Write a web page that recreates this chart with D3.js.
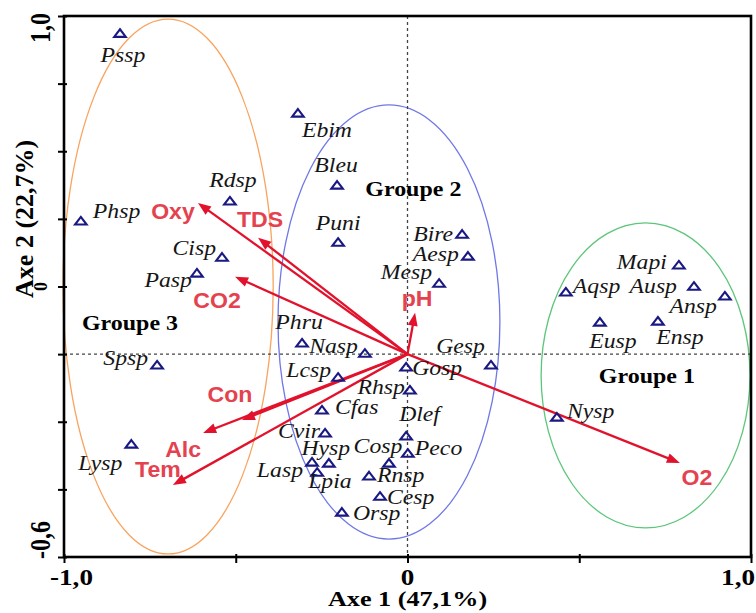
<!DOCTYPE html>
<html><head><meta charset="utf-8">
<script src="https://cdn.jsdelivr.net/npm/d3@7"></script>
<style>body{margin:0;background:#fff}svg{display:block}</style>
</head><body>
<svg id="c" width="756" height="613"></svg>
<script>
// ---------- data ----------
const species = ["Pssp","Ebim","Bleu","Puni","Bire","Aesp","Mesp","Rdsp","Phsp","Cisp","Pasp","Spsp","Lysp",
  "Phru","Nasp","Lcsp","Gosp","Gesp","Rhsp","Cfas","Dlef","Peco","Cvir","Hysp","Lasp","Lpia","Cosp","Rnsp","Cesp","Orsp",
  "Mapi","Aqsp","Ausp","Ansp","Eusp","Ensp","Nysp"];
const speciesX = [-0.837,-0.319,-0.205,-0.202,0.159,0.176,0.092,-0.517,-0.951,-0.540,-0.613,-0.729,-0.804,
  -0.307,-0.124,-0.202,-0.004,0.243,0.007,-0.249,-0.004,0.001,-0.240,-0.229,-0.278,-0.263,-0.054,-0.112,-0.080,-0.191,
  0.790,0.461,0.834,0.924,0.560,0.729,0.435];
const speciesY = [0.949,0.713,0.500,0.331,0.355,0.290,0.210,0.453,0.394,0.287,0.240,-0.032,-0.266,
  0.033,0.003,-0.068,-0.038,-0.032,-0.106,-0.165,-0.242,-0.293,-0.233,-0.322,-0.319,-0.349,-0.322,-0.360,-0.420,-0.467,
  0.264,0.184,0.201,0.172,0.095,0.098,-0.186];

const variables = ["Oxy","TDS","CO2","pH","Con","Alc","Tem","O2"];
const varX = [-0.610,-0.435,-0.502,0.022,-0.482,-0.595,-0.683,0.793];
const varY = [0.447,0.344,0.229,0.122,-0.195,-0.233,-0.387,-0.322];

const groups = ["Groupe 1","Groupe 2","Groupe 3"];
const groupCX = [0.693,-0.054,-0.697];
const groupCY = [-0.063,0.095,0.200];
const groupRX = [0.304,0.323,0.306];
const groupRY = [0.451,0.642,0.791];
const groupLabelX = [0.697,0.017,-0.808];
const groupLabelY = [-0.085,0.468,0.071];
const groupColors = ["#5cc67a","#6f78e6","#f9a35e"];

const xTicks = [-1,-0.5,0,0.5,1];
const xTickLabels = ["-1,0","","0","","1,0"];
const yTicks = [-0.6,-0.4,-0.2,0,0.2,0.4,0.6,0.8,1.0];
const yTickLabels = ["-0,6","","","","0","","","","1,0"];
const xTitle = "Axe 1 (47,1%)";
const yTitle = "Axe 2 (22,7%)";

// ---------- layout ----------
const L = 64, R = 751, T = 16, B = 557;
const x = d3.scaleLinear([-1,1],[L,R]);
const y = d3.scaleLinear([-0.6,1.0],[B,T]);
const svg = d3.select("#c");

const speciesLabelLayout = {
  Pssp:['middle',3,29], Ebim:['middle',29,24], Bleu:['middle',-1,-13], Puni:['middle',0,-12],
  Bire:['end',-9,7], Aesp:['end',-9,5], Mesp:['end',-7,-4], Rdsp:['middle',3,-14],
  Phsp:['start',12,-3], Cisp:['end',-6,-2], Pasp:['end',-5,14], Spsp:['end',-9,0], Lysp:['end',-9,26],
  Phru:['middle',-3,-14], Nasp:['end',-7,0], Lcsp:['end',-7,0], Gosp:['start',6,8], Gesp:['end',-6,-12],
  Rhsp:['end',-5,4], Cfas:['start',13,4], Dlef:['start',-7,-15], Peco:['start',7,2], Cvir:['end',-5,5],
  Hysp:['middle',-3,-8], Lasp:['end',-9,15], Lpia:['start',-9,16], Cosp:['middle',-11,-10],
  Rnsp:['start',8,6], Cesp:['start',7,8], Orsp:['start',11,8],
  Mapi:['end',-12,4], Aqsp:['start',7,1], Ausp:['end',-17,7], Ansp:['end',-8,17],
  Eusp:['middle',13,26], Ensp:['middle',22,23], Nysp:['start',10,1]
};
const varLabelLayout = {
  Oxy:[-25,16], TDS:[2,-11], CO2:[-18,31], pH:[2,-7], Con:[-12,-18], Alc:[-20,24], Tem:[-15,-8], O2:[17,22]
};

function stretchedText(g, str, px, py, anchor, sx, cls) {
  return g.append("text")
    .attr("transform", `translate(${px},${py}) scale(${sx},1)`)
    .attr("text-anchor", anchor)
    .attr("class", cls)
    .text(str);
}

svg.append("style").text(`
  .sp{font-family:"Liberation Serif","Times New Roman",serif;font-style:italic;font-size:21px;fill:#151515}
  .grp{font-family:"Liberation Serif","Times New Roman",serif;font-weight:bold;font-size:22px;fill:#000}
  .vr{font-family:"Liberation Sans",Arial,sans-serif;font-weight:bold;font-size:22px;fill:#e5424f}
  .tk{font-family:"Liberation Serif","Times New Roman",serif;font-weight:bold;fill:#000}
`);

// ellipses
groups.forEach((gname,i)=>{
  svg.append("ellipse")
    .attr("cx", x(groupCX[i])).attr("cy", y(groupCY[i]))
    .attr("rx", x(groupCX[i]+groupRX[i]) - x(groupCX[i]))
    .attr("ry", y(groupCY[i]-groupRY[i]) - y(groupCY[i]))
    .attr("fill","none").attr("stroke", groupColors[i]).attr("stroke-width",1.3);
});

// dashed zero lines
svg.append("line").attr("x1",x(0)).attr("x2",x(0)).attr("y1",T).attr("y2",B)
  .attr("stroke","#444").attr("stroke-width",1.3).attr("stroke-dasharray","3,3");
svg.append("line").attr("x1",L).attr("x2",R).attr("y1",y(0)).attr("y2",y(0))
  .attr("stroke","#444").attr("stroke-width",1.3).attr("stroke-dasharray","3,3");

// arrows
const arrowColor = "#e2122c";
const ag = svg.append("g");
variables.forEach((v,i)=>{
  const x0 = x(0), y0 = y(0), x1 = x(varX[i]), y1 = y(varY[i]);
  const dx = x1-x0, dy = y1-y0, len = Math.hypot(dx,dy);
  const ux = dx/len, uy = dy/len;
  const hl = 13, hw = 5;
  const bx = x1 - ux*hl, by = y1 - uy*hl;
  ag.append("line").attr("x1",x0).attr("y1",y0).attr("x2",bx+ux*2).attr("y2",by+uy*2)
    .attr("stroke",arrowColor).attr("stroke-width",2.3);
  ag.append("path")
    .attr("d",`M${x1},${y1}L${bx - uy*hw},${by + ux*hw}L${bx + uy*hw},${by - ux*hw}Z`)
    .attr("fill",arrowColor);
});

// species triangles
const tg = svg.append("g");
species.forEach((s,i)=>{
  tg.append("path")
    .attr("transform",`translate(${x(speciesX[i])},${y(speciesY[i])})`)
    .attr("d","M0,-4L5.8,3.6L-5.8,3.6Z")
    .attr("fill","none").attr("stroke","#1a1882").attr("stroke-width",2.1)
    .attr("stroke-linejoin","miter");
});

// species labels
const lg = svg.append("g");
species.forEach((s,i)=>{
  const [a,dx,dy] = speciesLabelLayout[s];
  stretchedText(lg, s, x(speciesX[i])+dx, y(speciesY[i])+dy, a, 1.13, "sp");
});

// variable labels
variables.forEach((v,i)=>{
  const [dx,dy] = varLabelLayout[v];
  stretchedText(lg, v, x(varX[i])+dx, y(varY[i])+dy, "middle", 1.05, "vr");
});

// group labels
groups.forEach((gname,i)=>{
  stretchedText(lg, gname, x(groupLabelX[i]), y(groupLabelY[i]), "middle", 1.09, "grp");
});

// frame
svg.append("rect").attr("x",L).attr("y",T).attr("width",R-L).attr("height",B-T)
  .attr("fill","none").attr("stroke","#000").attr("stroke-width",2.6);

// axes (ticks)
const xAxis = svg.append("g").attr("transform",`translate(0,${B})`)
  .call(d3.axisBottom(x).tickValues(xTicks).tickSize(6).tickFormat(""));
xAxis.select(".domain").remove();
xAxis.selectAll(".tick line").attr("y1",-3).attr("y2",6).attr("stroke-width",2);

const yAxis = svg.append("g").attr("transform",`translate(${L},0)`)
  .call(d3.axisLeft(y).tickValues(yTicks).tickSize(6).tickFormat(""));
yAxis.select(".domain").remove();
yAxis.selectAll(".tick line").attr("x1",3).attr("x2",-6).attr("stroke-width",2);

// x tick labels
xTicks.forEach((t,i)=>{
  const lab = xTickLabels[i]; if(!lab) return;
  let px = x(t), anchor = "middle";
  if (i===0){ anchor="start"; px = x(t)-14; }
  if (i===xTicks.length-1){ anchor="end"; px = x(t)+4; }
  svg.append("text").attr("class","tk").style("font-size","23px")
    .attr("transform",`translate(${px},585) scale(1.18,1)`)
    .attr("text-anchor",anchor).text(lab);
});

// y tick labels (rotated)
yTicks.forEach((t,i)=>{
  const lab = yTickLabels[i]; if(!lab) return;
  let py = y(t), anchor = "middle", fs = 24, bx = 50, sy = 1.25;
  if (i===yTicks.length-1){ anchor="end"; py = y(t)-3; }
  else if (i===0){ anchor="start"; py = y(t)+2; }
  else { fs = 18; bx = 47; sy = 1.0; }
  svg.append("text").attr("class","tk").style("font-size",fs+"px")
    .attr("transform",`translate(${bx},${py}) rotate(-90) scale(1,${sy})`)
    .attr("text-anchor",anchor).text(lab);
});

// axis titles
svg.append("text").attr("class","tk").style("font-size","22px")
  .attr("transform",`translate(${x(0)},606) scale(1.19,1)`)
  .attr("text-anchor","middle").text(xTitle);
svg.append("text").attr("class","tk").style("font-size","26px")
  .attr("transform",`translate(33,${y(0.4)-0}) rotate(-90)`)
  .attr("text-anchor","middle").text(yTitle);
</script>
</body></html>
